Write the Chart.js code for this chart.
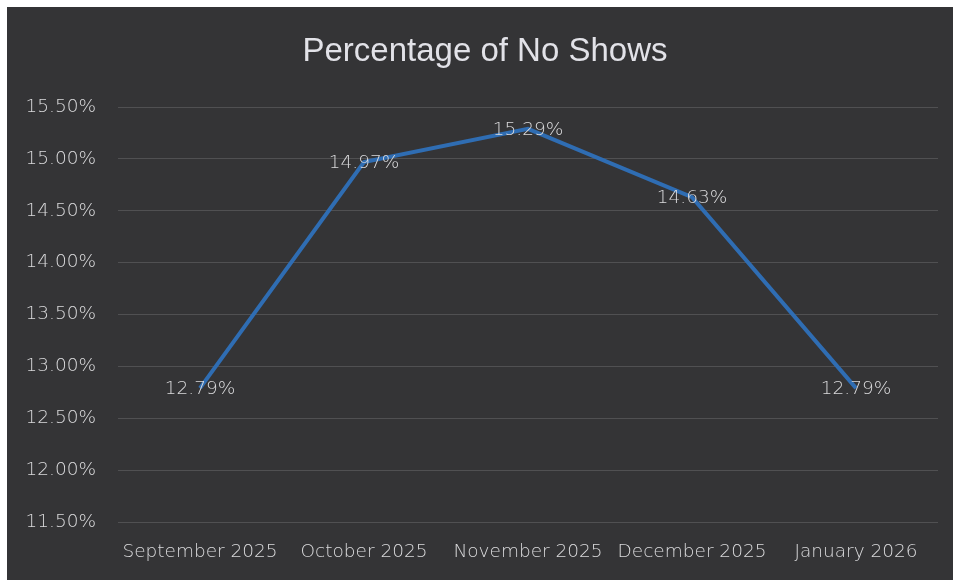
<!DOCTYPE html>
<html>
<head>
<meta charset="utf-8">
<script src="https://cdn.jsdelivr.net/npm/chart.js@4/dist/chart.umd.min.js"></script>
<style>
  html, body { margin: 0; padding: 0; background: #ffffff; }
  #frame {
    position: absolute;
    left: 7px;
    top: 7px;
    width: 946px;
    height: 573px;
    background: #343436;
  }
</style>
</head>
<body>
<div id="frame"><canvas id="noshow-chart" width="946" height="573"></canvas></div>
<script>
const chartTitle = 'Percentage of No Shows';
const months = ['September 2025', 'October 2025', 'November 2025', 'December 2025', 'January 2026'];
const noShowPct = [12.79, 14.97, 15.29, 14.63, 12.79];
const yTicks = [11.5, 12.0, 12.5, 13.0, 13.5, 14.0, 14.5, 15.0, 15.5];

const textColor = '#dadadc';
const labelFont = { family: "'DejaVu Sans', sans-serif", size: 18.5, weight: 200 };

// title + the value on every point (Excel "center" labels)
const extraText = {
  id: 'extraText',
  afterDatasetsDraw(chart) {
    const ctx = chart.ctx;
    const meta = chart.getDatasetMeta(0);
    ctx.save();
    ctx.textAlign = 'center';
    ctx.textBaseline = 'middle';

    ctx.font = '33px "Liberation Sans", Arial, sans-serif';
    ctx.fillStyle = '#e2e2e8';
    ctx.fillText(chartTitle, 478, 45);

    ctx.font = '200 18.5px "DejaVu Sans", sans-serif';
    ctx.fillStyle = textColor;
    meta.data.forEach((pt, i) => {
      ctx.fillText(noShowPct[i].toFixed(2) + '%', pt.x, pt.y + 1);
    });
    ctx.restore();
  }
};

const canvas = document.getElementById('noshow-chart');

new Chart(canvas, {
  type: 'line',
  data: {
    labels: months,
    datasets: [{
      data: noShowPct,
      borderColor: '#2f6db3',
      borderWidth: 4,
      pointRadius: 0,
      tension: 0,
      fill: false
    }]
  },
  options: {
    responsive: false,
    animation: false,
    layout: { padding: { left: 0, right: 15, top: 100, bottom: 0 } },
    plugins: {
      legend: { display: false },
      tooltip: { enabled: false },
      title: { display: false }
    },
    scales: {
      x: {
        offset: true,
        grid: { display: false, drawTicks: false },
        border: { display: false },
        ticks: { color: textColor, font: labelFont, padding: 19, maxRotation: 0, autoSkip: false },
        afterFit: (scale) => { scale.height = 58; }
      },
      y: {
        min: yTicks[0],
        max: yTicks[yTicks.length - 1],
        afterBuildTicks: (scale) => { scale.ticks = yTicks.map(v => ({ value: v })); },
        grid: { color: '#505052', lineWidth: 1, drawTicks: false },
        border: { display: false },
        ticks: {
          color: textColor,
          font: labelFont,
          padding: 22,
          callback: (v) => v.toFixed(2) + '%'
        },
        afterFit: (scale) => { scale.width = 111; }
      }
    }
  },
  plugins: [extraText]
});
</script>
</body>
</html>
